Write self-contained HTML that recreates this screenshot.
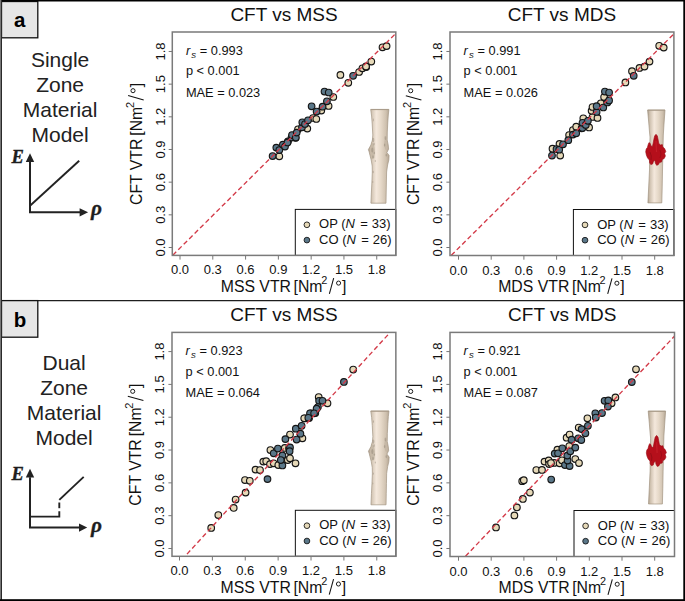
<!DOCTYPE html><html><head><meta charset="utf-8"><style>html,body{margin:0;padding:0;background:#fff;overflow:hidden;width:685px;height:601px;}svg{display:block}text{font-family:"Liberation Sans", sans-serif;}</style></head><body>
<svg width="685" height="601" viewBox="0 0 685 601">
<defs><linearGradient id="bone" x1="0" x2="1" y1="0" y2="0"><stop offset="0" stop-color="#a99b8a"/><stop offset="0.12" stop-color="#cdbfad"/><stop offset="0.38" stop-color="#f4e8dc"/><stop offset="0.6" stop-color="#e6d9c9"/><stop offset="0.85" stop-color="#cfc1af"/><stop offset="1" stop-color="#b3a593"/></linearGradient></defs>
<rect x="0" y="0" width="685" height="601" fill="#fff"/>
<text x="60.1" y="66.6" font-size="21" text-anchor="middle" fill="#222" >Single</text>
<text x="60.1" y="92.1" font-size="21" text-anchor="middle" fill="#222" >Zone</text>
<text x="60.1" y="117" font-size="21" text-anchor="middle" fill="#222" >Material</text>
<text x="60.1" y="142" font-size="21" text-anchor="middle" fill="#222" >Model</text>
<text x="64.1" y="369.6" font-size="21" text-anchor="middle" fill="#222" >Dual</text>
<text x="64.1" y="394.6" font-size="21" text-anchor="middle" fill="#222" >Zone</text>
<text x="64.1" y="419.5" font-size="21" text-anchor="middle" fill="#222" >Material</text>
<text x="64.1" y="444.5" font-size="21" text-anchor="middle" fill="#222" >Model</text>
<path d="M30 161.7 V212.3 H80.1" fill="none" stroke="#222" stroke-width="2"/>
<path d="M30 153.2 L34.2 162.0 L25.8 162.0 Z" fill="#222"/>
<path d="M88.1 212.3 L79.6 208.20000000000002 L79.6 216.4 Z" fill="#222"/>
<path d="M30 205.8 L79.2 160.7" stroke="#222" stroke-width="1.9" fill="none"/>
<text x="11.6" y="162.6" font-size="18.5" font-weight="bold" font-style="italic" fill="#1e1e1e" stroke="#1e1e1e" stroke-width="0.35" style="font-family:'Liberation Serif',serif">E</text>
<text x="90.9" y="215.3" font-size="21.3" font-weight="bold" font-style="italic" fill="#1e1e1e" stroke="#1e1e1e" stroke-width="0.3" style="font-family:'Liberation Serif',serif">ρ</text>
<path d="M30 477.2 V527.6 H79.5" fill="none" stroke="#222" stroke-width="2"/>
<path d="M30 468.8 L34.2 477.5 L25.8 477.5 Z" fill="#222"/>
<path d="M87.2 527.6 L79.0 523.5 L79.0 531.7 Z" fill="#222"/>
<path d="M30 516.6 H59.3 V511.2" stroke="#222" stroke-width="1.9" fill="none"/>
<path d="M59.3 508.2 V502.5" stroke="#222" stroke-width="1.9" fill="none"/>
<path d="M59.3 499.9 L83.7 476.9" stroke="#222" stroke-width="1.9" fill="none"/>
<text x="11.6" y="479.8" font-size="18.5" font-weight="bold" font-style="italic" fill="#1e1e1e" stroke="#1e1e1e" stroke-width="0.35" style="font-family:'Liberation Serif',serif">E</text>
<text x="91.1" y="532.4" font-size="21.3" font-weight="bold" font-style="italic" fill="#1e1e1e" stroke="#1e1e1e" stroke-width="0.3" style="font-family:'Liberation Serif',serif">ρ</text>
<text x="284.05" y="20.8" font-size="19" text-anchor="middle" fill="#111" >CFT vs MSS</text>
<line x1="180.00" y1="255.4" x2="180.00" y2="259.6" stroke="#777" stroke-width="1"/>
<line x1="168.70000000000002" y1="247.50" x2="172.3" y2="247.50" stroke="#777" stroke-width="1"/>
<text x="180.00" y="274.4" font-size="13" text-anchor="middle" fill="#111" >0.0</text>
<text transform="translate(164.60,247.50) rotate(-90)" font-size="13" text-anchor="middle" fill="#111">0.0</text>
<line x1="212.79" y1="255.4" x2="212.79" y2="259.6" stroke="#777" stroke-width="1"/>
<line x1="168.70000000000002" y1="214.83" x2="172.3" y2="214.83" stroke="#777" stroke-width="1"/>
<text x="212.79" y="274.4" font-size="13" text-anchor="middle" fill="#111" >0.3</text>
<text transform="translate(164.60,214.83) rotate(-90)" font-size="13" text-anchor="middle" fill="#111">0.3</text>
<line x1="245.58" y1="255.4" x2="245.58" y2="259.6" stroke="#777" stroke-width="1"/>
<line x1="168.70000000000002" y1="182.16" x2="172.3" y2="182.16" stroke="#777" stroke-width="1"/>
<text x="245.58" y="274.4" font-size="13" text-anchor="middle" fill="#111" >0.6</text>
<text transform="translate(164.60,182.16) rotate(-90)" font-size="13" text-anchor="middle" fill="#111">0.6</text>
<line x1="278.37" y1="255.4" x2="278.37" y2="259.6" stroke="#777" stroke-width="1"/>
<line x1="168.70000000000002" y1="149.49" x2="172.3" y2="149.49" stroke="#777" stroke-width="1"/>
<text x="278.37" y="274.4" font-size="13" text-anchor="middle" fill="#111" >0.9</text>
<text transform="translate(164.60,149.49) rotate(-90)" font-size="13" text-anchor="middle" fill="#111">0.9</text>
<line x1="311.16" y1="255.4" x2="311.16" y2="259.6" stroke="#777" stroke-width="1"/>
<line x1="168.70000000000002" y1="116.82" x2="172.3" y2="116.82" stroke="#777" stroke-width="1"/>
<text x="311.16" y="274.4" font-size="13" text-anchor="middle" fill="#111" >1.2</text>
<text transform="translate(164.60,116.82) rotate(-90)" font-size="13" text-anchor="middle" fill="#111">1.2</text>
<line x1="343.95" y1="255.4" x2="343.95" y2="259.6" stroke="#777" stroke-width="1"/>
<line x1="168.70000000000002" y1="84.15" x2="172.3" y2="84.15" stroke="#777" stroke-width="1"/>
<text x="343.95" y="274.4" font-size="13" text-anchor="middle" fill="#111" >1.5</text>
<text transform="translate(164.60,84.15) rotate(-90)" font-size="13" text-anchor="middle" fill="#111">1.5</text>
<line x1="376.74" y1="255.4" x2="376.74" y2="259.6" stroke="#777" stroke-width="1"/>
<line x1="168.70000000000002" y1="51.48" x2="172.3" y2="51.48" stroke="#777" stroke-width="1"/>
<text x="376.74" y="274.4" font-size="13" text-anchor="middle" fill="#111" >1.8</text>
<text transform="translate(164.60,51.48) rotate(-90)" font-size="13" text-anchor="middle" fill="#111">1.8</text>
<g transform="translate(284.05,291.80) translate(-62.01,0)" fill="#111"><text x="-1.30" y="0" font-size="15.8">MSS VTR</text><text x="71.53" y="0" font-size="15.8">[Nm</text><text x="99.23" y="-8" font-size="10.9">2</text><path d="M107.33 2 L111.63 -13.6" stroke="#111" stroke-width="1.05" fill="none"/><circle cx="116.53" cy="-8.7" r="2.05" stroke="#111" stroke-width="0.95" fill="none"/><text x="119.93" y="0" font-size="15.8">]</text></g>
<g transform="translate(141.70,143.70) rotate(-90) translate(-60.49,0)" fill="#111"><text x="-0.80" y="0" font-size="15.8">CFT VTR</text><text x="68.50" y="0" font-size="15.8">[Nm</text><text x="96.20" y="-8" font-size="10.9">2</text><path d="M104.30 2 L108.60 -13.6" stroke="#111" stroke-width="1.05" fill="none"/><circle cx="113.50" cy="-8.7" r="2.05" stroke="#111" stroke-width="0.95" fill="none"/><text x="116.90" y="0" font-size="15.8">]</text></g>
<text x="185.90" y="54.80" font-size="12.8" fill="#111"><tspan font-style="italic">r</tspan><tspan font-style="italic" font-size="9.6" dx="1.2" dy="3">s</tspan><tspan dx="0.1" dy="-3"> = 0.993</tspan></text>
<text x="185.90" y="75.20" font-size="12.8" text-anchor="start" fill="#111" >p &lt; 0.001</text>
<text x="185.90" y="96.50" font-size="12.8" text-anchor="start" fill="#111" >MAE = 0.023</text>
<path d="M370.70 109.40 L371.60 116.00 L372.20 124.00 L372.80 135.00 L372.40 140.00 L370.90 145.00 L368.40 149.60 L369.20 152.00 L369.90 155.00 L371.20 160.00 L372.20 166.00 L372.30 172.00 L371.90 182.00 L371.40 192.00 L370.90 203.20 L386.00 203.20 L386.20 192.00 L386.40 182.00 L386.60 172.00 L387.60 165.00 L388.80 160.00 L389.10 155.50 L386.90 152.50 L388.60 149.00 L388.20 145.00 L387.20 140.00 L387.30 132.00 L387.80 122.00 L388.30 115.00 L388.90 109.40 Z" fill="url(#bone)" stroke="#a39583" stroke-width="0.7" stroke-linejoin="round"/>
<path d="M371.30 142.00 C374.80 144.00 375.80 150.00 374.30 158.00 L371.30 159.00 Z" fill="#b7a996" opacity="0.55"/>
<path d="M386.80 136.00 C383.80 140.00 382.80 146.00 386.30 151.00 Z" fill="#b9ab99" opacity="0.5"/>
<path d="M370.80 109.60 L388.80 109.60" stroke="#a89a88" stroke-width="1"/>
<ellipse cx="373.30" cy="140.00" rx="1.0" ry="2.2" fill="#8f8373" opacity="0.45"/>
<ellipse cx="374.00" cy="144.00" rx="0.8" ry="1.6" fill="#8f8373" opacity="0.45"/>
<ellipse cx="372.30" cy="150.00" rx="1.1" ry="2.5" fill="#8f8373" opacity="0.45"/>
<ellipse cx="374.30" cy="153.00" rx="0.7" ry="1.2" fill="#8f8373" opacity="0.45"/>
<ellipse cx="373.00" cy="157.00" rx="0.8" ry="1.8" fill="#8f8373" opacity="0.45"/>
<ellipse cx="375.30" cy="161.00" rx="0.6" ry="1.0" fill="#8f8373" opacity="0.45"/>
<ellipse cx="385.30" cy="138.00" rx="0.8" ry="2.0" fill="#8f8373" opacity="0.45"/>
<ellipse cx="384.60" cy="145.00" rx="0.7" ry="1.5" fill="#8f8373" opacity="0.45"/>
<ellipse cx="386.30" cy="155.00" rx="0.8" ry="1.6" fill="#8f8373" opacity="0.45"/>
<ellipse cx="373.20" cy="172.00" rx="0.6" ry="1.2" fill="#8f8373" opacity="0.45"/>
<ellipse cx="372.80" cy="182.00" rx="0.5" ry="1.0" fill="#8f8373" opacity="0.45"/>
<ellipse cx="373.40" cy="120.00" rx="0.5" ry="1.4" fill="#8f8373" opacity="0.45"/>
<circle cx="279.3" cy="156.3" r="3.3" fill="#e6d9b8" stroke="#151515" stroke-width="1.15"/>
<circle cx="298.0" cy="129.3" r="3.3" fill="#e6d9b8" stroke="#151515" stroke-width="1.15"/>
<circle cx="295.6" cy="137.8" r="3.3" fill="#e6d9b8" stroke="#151515" stroke-width="1.15"/>
<circle cx="307.3" cy="128.6" r="3.3" fill="#e6d9b8" stroke="#151515" stroke-width="1.15"/>
<circle cx="313.0" cy="118.0" r="3.3" fill="#e6d9b8" stroke="#151515" stroke-width="1.15"/>
<circle cx="316.3" cy="119.0" r="3.3" fill="#e6d9b8" stroke="#151515" stroke-width="1.15"/>
<circle cx="328.6" cy="106.0" r="3.3" fill="#e6d9b8" stroke="#151515" stroke-width="1.15"/>
<circle cx="321.3" cy="110.6" r="3.3" fill="#e6d9b8" stroke="#151515" stroke-width="1.15"/>
<circle cx="333.3" cy="97.0" r="3.3" fill="#e6d9b8" stroke="#151515" stroke-width="1.15"/>
<circle cx="340.4" cy="74.9" r="3.3" fill="#e6d9b8" stroke="#151515" stroke-width="1.15"/>
<circle cx="348.3" cy="82.8" r="3.3" fill="#e6d9b8" stroke="#151515" stroke-width="1.15"/>
<circle cx="359.1" cy="72.0" r="3.3" fill="#e6d9b8" stroke="#151515" stroke-width="1.15"/>
<circle cx="362.4" cy="68.3" r="3.3" fill="#e6d9b8" stroke="#151515" stroke-width="1.15"/>
<circle cx="366.2" cy="67.0" r="3.3" fill="#e6d9b8" stroke="#151515" stroke-width="1.15"/>
<circle cx="371.3" cy="61.5" r="3.3" fill="#e6d9b8" stroke="#151515" stroke-width="1.15"/>
<circle cx="366.0" cy="66.4" r="3.3" fill="#e6d9b8" stroke="#151515" stroke-width="1.15"/>
<circle cx="382.5" cy="47.3" r="3.3" fill="#e6d9b8" stroke="#151515" stroke-width="1.15"/>
<circle cx="386.6" cy="46.1" r="3.3" fill="#e6d9b8" stroke="#151515" stroke-width="1.15"/>
<circle cx="272.6" cy="156.0" r="3.3" fill="#5a7789" stroke="#151515" stroke-width="1.15"/>
<circle cx="276.3" cy="147.6" r="3.3" fill="#5a7789" stroke="#151515" stroke-width="1.15"/>
<circle cx="279.3" cy="150.0" r="3.3" fill="#5a7789" stroke="#151515" stroke-width="1.15"/>
<circle cx="282.9" cy="144.6" r="3.3" fill="#5a7789" stroke="#151515" stroke-width="1.15"/>
<circle cx="285.0" cy="146.6" r="3.3" fill="#5a7789" stroke="#151515" stroke-width="1.15"/>
<circle cx="288.0" cy="141.3" r="3.3" fill="#5a7789" stroke="#151515" stroke-width="1.15"/>
<circle cx="287.5" cy="142.4" r="3.3" fill="#5a7789" stroke="#151515" stroke-width="1.15"/>
<circle cx="291.5" cy="137.5" r="3.3" fill="#5a7789" stroke="#151515" stroke-width="1.15"/>
<circle cx="292.0" cy="135.0" r="3.3" fill="#5a7789" stroke="#151515" stroke-width="1.15"/>
<circle cx="295.8" cy="137.5" r="3.3" fill="#5a7789" stroke="#151515" stroke-width="1.15"/>
<circle cx="296.7" cy="132.6" r="3.3" fill="#5a7789" stroke="#151515" stroke-width="1.15"/>
<circle cx="302.0" cy="127.3" r="3.3" fill="#5a7789" stroke="#151515" stroke-width="1.15"/>
<circle cx="302.3" cy="122.3" r="3.3" fill="#5a7789" stroke="#151515" stroke-width="1.15"/>
<circle cx="305.0" cy="124.0" r="3.3" fill="#5a7789" stroke="#151515" stroke-width="1.15"/>
<circle cx="308.0" cy="120.3" r="3.3" fill="#5a7789" stroke="#151515" stroke-width="1.15"/>
<circle cx="311.6" cy="106.3" r="3.3" fill="#5a7789" stroke="#151515" stroke-width="1.15"/>
<circle cx="316.6" cy="111.6" r="3.3" fill="#5a7789" stroke="#151515" stroke-width="1.15"/>
<circle cx="322.6" cy="106.7" r="3.3" fill="#5a7789" stroke="#151515" stroke-width="1.15"/>
<circle cx="326.9" cy="101.3" r="3.3" fill="#5a7789" stroke="#151515" stroke-width="1.15"/>
<circle cx="324.5" cy="91.6" r="3.3" fill="#5a7789" stroke="#151515" stroke-width="1.15"/>
<circle cx="328.7" cy="92.5" r="3.3" fill="#5a7789" stroke="#151515" stroke-width="1.15"/>
<circle cx="353.1" cy="75.8" r="3.3" fill="#5a7789" stroke="#151515" stroke-width="1.15"/>
<line x1="172.8" y1="255.2" x2="395.6" y2="33.6" stroke="#d33a48" stroke-width="1.35" stroke-dasharray="4.8 2.9"/>
<rect x="295.30" y="209.40" width="100.50" height="46.00" fill="#fff" stroke="#111" stroke-width="1"/>
<circle cx="306.90" cy="224.80" r="2.85" fill="#e6d9b8" stroke="#1a1a1a" stroke-width="0.9"/>
<circle cx="306.90" cy="240.10" r="2.85" fill="#5a7789" stroke="#1a1a1a" stroke-width="0.9"/>
<text x="319.10" y="228.40" font-size="13" fill="#111">OP (<tspan font-style="italic">N</tspan><tspan dx="1.6"> =</tspan><tspan dx="0.4"> 33)</tspan></text>
<text x="319.10" y="243.70" font-size="13" fill="#111">CO (<tspan font-style="italic">N</tspan><tspan dx="1.6"> =</tspan><tspan dx="0.4"> 26)</tspan></text>
<rect x="172.3" y="32" width="223.50" height="223.40" fill="none" stroke="#7a7a7a" stroke-width="1.5"/>
<text x="561.95" y="20.8" font-size="19" text-anchor="middle" fill="#111" >CFT vs MDS</text>
<line x1="458.50" y1="255.5" x2="458.50" y2="259.7" stroke="#777" stroke-width="1"/>
<line x1="446.4" y1="247.50" x2="450.0" y2="247.50" stroke="#777" stroke-width="1"/>
<text x="458.50" y="274.5" font-size="13" text-anchor="middle" fill="#111" >0.0</text>
<text transform="translate(442.30,247.50) rotate(-90)" font-size="13" text-anchor="middle" fill="#111">0.0</text>
<line x1="491.20" y1="255.5" x2="491.20" y2="259.7" stroke="#777" stroke-width="1"/>
<line x1="446.4" y1="214.83" x2="450.0" y2="214.83" stroke="#777" stroke-width="1"/>
<text x="491.20" y="274.5" font-size="13" text-anchor="middle" fill="#111" >0.3</text>
<text transform="translate(442.30,214.83) rotate(-90)" font-size="13" text-anchor="middle" fill="#111">0.3</text>
<line x1="523.90" y1="255.5" x2="523.90" y2="259.7" stroke="#777" stroke-width="1"/>
<line x1="446.4" y1="182.16" x2="450.0" y2="182.16" stroke="#777" stroke-width="1"/>
<text x="523.90" y="274.5" font-size="13" text-anchor="middle" fill="#111" >0.6</text>
<text transform="translate(442.30,182.16) rotate(-90)" font-size="13" text-anchor="middle" fill="#111">0.6</text>
<line x1="556.60" y1="255.5" x2="556.60" y2="259.7" stroke="#777" stroke-width="1"/>
<line x1="446.4" y1="149.49" x2="450.0" y2="149.49" stroke="#777" stroke-width="1"/>
<text x="556.60" y="274.5" font-size="13" text-anchor="middle" fill="#111" >0.9</text>
<text transform="translate(442.30,149.49) rotate(-90)" font-size="13" text-anchor="middle" fill="#111">0.9</text>
<line x1="589.30" y1="255.5" x2="589.30" y2="259.7" stroke="#777" stroke-width="1"/>
<line x1="446.4" y1="116.82" x2="450.0" y2="116.82" stroke="#777" stroke-width="1"/>
<text x="589.30" y="274.5" font-size="13" text-anchor="middle" fill="#111" >1.2</text>
<text transform="translate(442.30,116.82) rotate(-90)" font-size="13" text-anchor="middle" fill="#111">1.2</text>
<line x1="622.00" y1="255.5" x2="622.00" y2="259.7" stroke="#777" stroke-width="1"/>
<line x1="446.4" y1="84.15" x2="450.0" y2="84.15" stroke="#777" stroke-width="1"/>
<text x="622.00" y="274.5" font-size="13" text-anchor="middle" fill="#111" >1.5</text>
<text transform="translate(442.30,84.15) rotate(-90)" font-size="13" text-anchor="middle" fill="#111">1.5</text>
<line x1="654.70" y1="255.5" x2="654.70" y2="259.7" stroke="#777" stroke-width="1"/>
<line x1="446.4" y1="51.48" x2="450.0" y2="51.48" stroke="#777" stroke-width="1"/>
<text x="654.70" y="274.5" font-size="13" text-anchor="middle" fill="#111" >1.8</text>
<text transform="translate(442.30,51.48) rotate(-90)" font-size="13" text-anchor="middle" fill="#111">1.8</text>
<g transform="translate(561.95,291.90) translate(-62.45,0)" fill="#111"><text x="-1.30" y="0" font-size="15.8">MDS VTR</text><text x="72.40" y="0" font-size="15.8">[Nm</text><text x="100.10" y="-8" font-size="10.9">2</text><path d="M108.20 2 L112.50 -13.6" stroke="#111" stroke-width="1.05" fill="none"/><circle cx="117.40" cy="-8.7" r="2.05" stroke="#111" stroke-width="0.95" fill="none"/><text x="120.80" y="0" font-size="15.8">]</text></g>
<g transform="translate(419.40,143.75) rotate(-90) translate(-60.49,0)" fill="#111"><text x="-0.80" y="0" font-size="15.8">CFT VTR</text><text x="68.50" y="0" font-size="15.8">[Nm</text><text x="96.20" y="-8" font-size="10.9">2</text><path d="M104.30 2 L108.60 -13.6" stroke="#111" stroke-width="1.05" fill="none"/><circle cx="113.50" cy="-8.7" r="2.05" stroke="#111" stroke-width="0.95" fill="none"/><text x="116.90" y="0" font-size="15.8">]</text></g>
<text x="463.60" y="54.80" font-size="12.8" fill="#111"><tspan font-style="italic">r</tspan><tspan font-style="italic" font-size="9.6" dx="1.2" dy="3">s</tspan><tspan dx="0.1" dy="-3"> = 0.991</tspan></text>
<text x="463.60" y="75.20" font-size="12.8" text-anchor="start" fill="#111" >p &lt; 0.001</text>
<text x="463.60" y="96.50" font-size="12.8" text-anchor="start" fill="#111" >MAE = 0.026</text>
<path d="M647.60 110.00 L648.70 122.00 L649.50 132.00 L650.00 137.00 L649.70 152.00 L649.50 170.00 L648.70 187.00 L647.90 202.90 L661.80 202.90 L662.20 187.00 L662.50 170.00 L662.90 152.00 L663.30 135.00 L664.00 124.00 L665.00 110.00 Z" fill="url(#bone)" stroke="#a39583" stroke-width="0.7" stroke-linejoin="round"/>
<path d="M647.70 110.20 L664.90 110.20" stroke="#a89a88" stroke-width="1"/>
<path d="M656.00 134.30 L657.40 136.00 L658.20 140.00 L658.80 143.50 L660.50 145.00 L662.30 144.60 L662.80 147.00 L664.60 148.50 L665.80 151.50 L664.60 153.50 L665.40 156.00 L664.20 158.50 L662.20 159.50 L661.60 162.00 L659.60 162.40 L658.20 164.80 L656.60 165.30 L655.30 163.00 L655.00 160.50 L653.60 161.00 L652.60 164.00 L650.80 164.60 L649.60 162.80 L649.40 160.00 L647.60 158.00 L646.40 155.20 L645.70 151.80 L646.20 149.00 L647.40 147.50 L648.20 144.50 L649.00 142.60 L650.20 143.40 L651.00 146.00 L652.40 146.50 L653.20 143.00 L653.80 139.50 L654.60 136.00 Z" fill="#b50f1b" stroke="#9a0a14" stroke-width="0.6" stroke-linejoin="round"/>
<path d="M650.00 152.00 Q652.00 156.00 651.00 160.00" stroke="#8c0a12" stroke-width="1" fill="none" opacity="0.7"/>
<path d="M660.00 150.00 Q662.00 154.00 660.00 158.00" stroke="#8c0a12" stroke-width="0.9" fill="none" opacity="0.6"/>
<path d="M656.00 141.00 L656.50 152.00" stroke="#cf2a34" stroke-width="1.2" fill="none" opacity="0.5"/>
<circle cx="560.2" cy="155.5" r="3.3" fill="#e6d9b8" stroke="#151515" stroke-width="1.15"/>
<circle cx="552.5" cy="148.7" r="3.3" fill="#e6d9b8" stroke="#151515" stroke-width="1.15"/>
<circle cx="559.5" cy="143.9" r="3.3" fill="#e6d9b8" stroke="#151515" stroke-width="1.15"/>
<circle cx="569.1" cy="135.0" r="3.3" fill="#e6d9b8" stroke="#151515" stroke-width="1.15"/>
<circle cx="572.9" cy="130.0" r="3.3" fill="#e6d9b8" stroke="#151515" stroke-width="1.15"/>
<circle cx="576.2" cy="126.7" r="3.3" fill="#e6d9b8" stroke="#151515" stroke-width="1.15"/>
<circle cx="589.1" cy="127.4" r="3.3" fill="#e6d9b8" stroke="#151515" stroke-width="1.15"/>
<circle cx="583.3" cy="118.3" r="3.3" fill="#e6d9b8" stroke="#151515" stroke-width="1.15"/>
<circle cx="592.5" cy="117.0" r="3.3" fill="#e6d9b8" stroke="#151515" stroke-width="1.15"/>
<circle cx="597.5" cy="117.9" r="3.3" fill="#e6d9b8" stroke="#151515" stroke-width="1.15"/>
<circle cx="591.6" cy="110.8" r="3.3" fill="#e6d9b8" stroke="#151515" stroke-width="1.15"/>
<circle cx="592.5" cy="107.0" r="3.3" fill="#e6d9b8" stroke="#151515" stroke-width="1.15"/>
<circle cx="600.8" cy="103.3" r="3.3" fill="#e6d9b8" stroke="#151515" stroke-width="1.15"/>
<circle cx="604.1" cy="97.1" r="3.3" fill="#e6d9b8" stroke="#151515" stroke-width="1.15"/>
<circle cx="625.4" cy="82.4" r="3.3" fill="#e6d9b8" stroke="#151515" stroke-width="1.15"/>
<circle cx="632.0" cy="71.2" r="3.3" fill="#e6d9b8" stroke="#151515" stroke-width="1.15"/>
<circle cx="639.5" cy="67.9" r="3.3" fill="#e6d9b8" stroke="#151515" stroke-width="1.15"/>
<circle cx="644.5" cy="66.6" r="3.3" fill="#e6d9b8" stroke="#151515" stroke-width="1.15"/>
<circle cx="649.5" cy="61.6" r="3.3" fill="#e6d9b8" stroke="#151515" stroke-width="1.15"/>
<circle cx="659.2" cy="45.8" r="3.3" fill="#e6d9b8" stroke="#151515" stroke-width="1.15"/>
<circle cx="663.7" cy="47.6" r="3.3" fill="#e6d9b8" stroke="#151515" stroke-width="1.15"/>
<circle cx="552.0" cy="155.5" r="3.3" fill="#5a7789" stroke="#151515" stroke-width="1.15"/>
<circle cx="556.5" cy="149.0" r="3.3" fill="#5a7789" stroke="#151515" stroke-width="1.15"/>
<circle cx="559.2" cy="149.7" r="3.3" fill="#5a7789" stroke="#151515" stroke-width="1.15"/>
<circle cx="563.0" cy="144.3" r="3.3" fill="#5a7789" stroke="#151515" stroke-width="1.15"/>
<circle cx="568.3" cy="140.2" r="3.3" fill="#5a7789" stroke="#151515" stroke-width="1.15"/>
<circle cx="572.9" cy="134.6" r="3.3" fill="#5a7789" stroke="#151515" stroke-width="1.15"/>
<circle cx="576.2" cy="133.3" r="3.3" fill="#5a7789" stroke="#151515" stroke-width="1.15"/>
<circle cx="581.6" cy="128.3" r="3.3" fill="#5a7789" stroke="#151515" stroke-width="1.15"/>
<circle cx="582.4" cy="127.9" r="3.3" fill="#5a7789" stroke="#151515" stroke-width="1.15"/>
<circle cx="582.5" cy="122.8" r="3.3" fill="#5a7789" stroke="#151515" stroke-width="1.15"/>
<circle cx="585.8" cy="124.9" r="3.3" fill="#5a7789" stroke="#151515" stroke-width="1.15"/>
<circle cx="587.9" cy="120.8" r="3.3" fill="#5a7789" stroke="#151515" stroke-width="1.15"/>
<circle cx="596.6" cy="112.0" r="3.3" fill="#5a7789" stroke="#151515" stroke-width="1.15"/>
<circle cx="596.6" cy="106.2" r="3.3" fill="#5a7789" stroke="#151515" stroke-width="1.15"/>
<circle cx="603.3" cy="107.5" r="3.3" fill="#5a7789" stroke="#151515" stroke-width="1.15"/>
<circle cx="607.4" cy="102.5" r="3.3" fill="#5a7789" stroke="#151515" stroke-width="1.15"/>
<circle cx="609.1" cy="100.4" r="3.3" fill="#5a7789" stroke="#151515" stroke-width="1.15"/>
<circle cx="604.9" cy="91.6" r="3.3" fill="#5a7789" stroke="#151515" stroke-width="1.15"/>
<circle cx="609.1" cy="92.5" r="3.3" fill="#5a7789" stroke="#151515" stroke-width="1.15"/>
<circle cx="633.7" cy="75.8" r="3.3" fill="#5a7789" stroke="#151515" stroke-width="1.15"/>
<line x1="451.3" y1="255.3" x2="673.6" y2="34.2" stroke="#d33a48" stroke-width="1.35" stroke-dasharray="4.8 2.9"/>
<rect x="573.40" y="209.50" width="100.50" height="46.00" fill="#fff" stroke="#111" stroke-width="1"/>
<circle cx="585.00" cy="224.90" r="2.85" fill="#e6d9b8" stroke="#1a1a1a" stroke-width="0.9"/>
<circle cx="585.00" cy="240.20" r="2.85" fill="#5a7789" stroke="#1a1a1a" stroke-width="0.9"/>
<text x="597.20" y="228.50" font-size="13" fill="#111">OP (<tspan font-style="italic">N</tspan><tspan dx="1.6"> =</tspan><tspan dx="0.4"> 33)</tspan></text>
<text x="597.20" y="243.80" font-size="13" fill="#111">CO (<tspan font-style="italic">N</tspan><tspan dx="1.6"> =</tspan><tspan dx="0.4"> 26)</tspan></text>
<rect x="450.0" y="32" width="223.90" height="223.50" fill="none" stroke="#7a7a7a" stroke-width="1.5"/>
<text x="283.93" y="321.2" font-size="19" text-anchor="middle" fill="#111" >CFT vs MSS</text>
<line x1="179.50" y1="556.3" x2="179.50" y2="560.5" stroke="#777" stroke-width="1"/>
<line x1="168.4" y1="548.50" x2="172.0" y2="548.50" stroke="#777" stroke-width="1"/>
<text x="179.50" y="575.3" font-size="13" text-anchor="middle" fill="#111" >0.0</text>
<text transform="translate(164.30,548.50) rotate(-90)" font-size="13" text-anchor="middle" fill="#111">0.0</text>
<line x1="212.38" y1="556.3" x2="212.38" y2="560.5" stroke="#777" stroke-width="1"/>
<line x1="168.4" y1="515.68" x2="172.0" y2="515.68" stroke="#777" stroke-width="1"/>
<text x="212.38" y="575.3" font-size="13" text-anchor="middle" fill="#111" >0.3</text>
<text transform="translate(164.30,515.68) rotate(-90)" font-size="13" text-anchor="middle" fill="#111">0.3</text>
<line x1="245.26" y1="556.3" x2="245.26" y2="560.5" stroke="#777" stroke-width="1"/>
<line x1="168.4" y1="482.86" x2="172.0" y2="482.86" stroke="#777" stroke-width="1"/>
<text x="245.26" y="575.3" font-size="13" text-anchor="middle" fill="#111" >0.6</text>
<text transform="translate(164.30,482.86) rotate(-90)" font-size="13" text-anchor="middle" fill="#111">0.6</text>
<line x1="278.14" y1="556.3" x2="278.14" y2="560.5" stroke="#777" stroke-width="1"/>
<line x1="168.4" y1="450.04" x2="172.0" y2="450.04" stroke="#777" stroke-width="1"/>
<text x="278.14" y="575.3" font-size="13" text-anchor="middle" fill="#111" >0.9</text>
<text transform="translate(164.30,450.04) rotate(-90)" font-size="13" text-anchor="middle" fill="#111">0.9</text>
<line x1="311.02" y1="556.3" x2="311.02" y2="560.5" stroke="#777" stroke-width="1"/>
<line x1="168.4" y1="417.22" x2="172.0" y2="417.22" stroke="#777" stroke-width="1"/>
<text x="311.02" y="575.3" font-size="13" text-anchor="middle" fill="#111" >1.2</text>
<text transform="translate(164.30,417.22) rotate(-90)" font-size="13" text-anchor="middle" fill="#111">1.2</text>
<line x1="343.90" y1="556.3" x2="343.90" y2="560.5" stroke="#777" stroke-width="1"/>
<line x1="168.4" y1="384.40" x2="172.0" y2="384.40" stroke="#777" stroke-width="1"/>
<text x="343.90" y="575.3" font-size="13" text-anchor="middle" fill="#111" >1.5</text>
<text transform="translate(164.30,384.40) rotate(-90)" font-size="13" text-anchor="middle" fill="#111">1.5</text>
<line x1="376.78" y1="556.3" x2="376.78" y2="560.5" stroke="#777" stroke-width="1"/>
<line x1="168.4" y1="351.58" x2="172.0" y2="351.58" stroke="#777" stroke-width="1"/>
<text x="376.78" y="575.3" font-size="13" text-anchor="middle" fill="#111" >1.8</text>
<text transform="translate(164.30,351.58) rotate(-90)" font-size="13" text-anchor="middle" fill="#111">1.8</text>
<g transform="translate(283.93,592.70) translate(-62.01,0)" fill="#111"><text x="-1.30" y="0" font-size="15.8">MSS VTR</text><text x="71.53" y="0" font-size="15.8">[Nm</text><text x="99.23" y="-8" font-size="10.9">2</text><path d="M107.33 2 L111.63 -13.6" stroke="#111" stroke-width="1.05" fill="none"/><circle cx="116.53" cy="-8.7" r="2.05" stroke="#111" stroke-width="0.95" fill="none"/><text x="119.93" y="0" font-size="15.8">]</text></g>
<g transform="translate(141.40,444.35) rotate(-90) translate(-60.49,0)" fill="#111"><text x="-0.80" y="0" font-size="15.8">CFT VTR</text><text x="68.50" y="0" font-size="15.8">[Nm</text><text x="96.20" y="-8" font-size="10.9">2</text><path d="M104.30 2 L108.60 -13.6" stroke="#111" stroke-width="1.05" fill="none"/><circle cx="113.50" cy="-8.7" r="2.05" stroke="#111" stroke-width="0.95" fill="none"/><text x="116.90" y="0" font-size="15.8">]</text></g>
<text x="185.60" y="355.20" font-size="12.8" fill="#111"><tspan font-style="italic">r</tspan><tspan font-style="italic" font-size="9.6" dx="1.2" dy="3">s</tspan><tspan dx="0.1" dy="-3"> = 0.923</tspan></text>
<text x="185.60" y="375.60" font-size="12.8" text-anchor="start" fill="#111" >p &lt; 0.001</text>
<text x="185.60" y="396.90" font-size="12.8" text-anchor="start" fill="#111" >MAE = 0.064</text>
<path d="M370.75 411.00 L371.65 417.60 L372.25 425.60 L372.85 436.60 L372.45 441.60 L370.95 446.60 L368.45 451.20 L369.25 453.60 L369.95 456.60 L371.25 461.60 L372.25 467.60 L372.35 473.60 L371.95 483.60 L371.45 493.60 L370.95 504.80 L386.05 504.80 L386.25 493.60 L386.45 483.60 L386.65 473.60 L387.65 466.60 L388.85 461.60 L389.15 457.10 L386.95 454.10 L388.65 450.60 L388.25 446.60 L387.25 441.60 L387.35 433.60 L387.85 423.60 L388.35 416.60 L388.95 411.00 Z" fill="url(#bone)" stroke="#a39583" stroke-width="0.7" stroke-linejoin="round"/>
<path d="M371.35 443.60 C374.85 445.60 375.85 451.60 374.35 459.60 L371.35 460.60 Z" fill="#b7a996" opacity="0.55"/>
<path d="M386.85 437.60 C383.85 441.60 382.85 447.60 386.35 452.60 Z" fill="#b9ab99" opacity="0.5"/>
<path d="M370.85 411.20 L388.85 411.20" stroke="#a89a88" stroke-width="1"/>
<ellipse cx="373.35" cy="441.60" rx="1.0" ry="2.2" fill="#8f8373" opacity="0.45"/>
<ellipse cx="374.05" cy="445.60" rx="0.8" ry="1.6" fill="#8f8373" opacity="0.45"/>
<ellipse cx="372.35" cy="451.60" rx="1.1" ry="2.5" fill="#8f8373" opacity="0.45"/>
<ellipse cx="374.35" cy="454.60" rx="0.7" ry="1.2" fill="#8f8373" opacity="0.45"/>
<ellipse cx="373.05" cy="458.60" rx="0.8" ry="1.8" fill="#8f8373" opacity="0.45"/>
<ellipse cx="375.35" cy="462.60" rx="0.6" ry="1.0" fill="#8f8373" opacity="0.45"/>
<ellipse cx="385.35" cy="439.60" rx="0.8" ry="2.0" fill="#8f8373" opacity="0.45"/>
<ellipse cx="384.65" cy="446.60" rx="0.7" ry="1.5" fill="#8f8373" opacity="0.45"/>
<ellipse cx="386.35" cy="456.60" rx="0.8" ry="1.6" fill="#8f8373" opacity="0.45"/>
<ellipse cx="373.25" cy="473.60" rx="0.6" ry="1.2" fill="#8f8373" opacity="0.45"/>
<ellipse cx="372.85" cy="483.60" rx="0.5" ry="1.0" fill="#8f8373" opacity="0.45"/>
<ellipse cx="373.45" cy="421.60" rx="0.5" ry="1.4" fill="#8f8373" opacity="0.45"/>
<circle cx="211.2" cy="527.9" r="3.3" fill="#e6d9b8" stroke="#151515" stroke-width="1.15"/>
<circle cx="218.3" cy="515.0" r="3.3" fill="#e6d9b8" stroke="#151515" stroke-width="1.15"/>
<circle cx="233.7" cy="507.9" r="3.3" fill="#e6d9b8" stroke="#151515" stroke-width="1.15"/>
<circle cx="235.6" cy="499.5" r="3.3" fill="#e6d9b8" stroke="#151515" stroke-width="1.15"/>
<circle cx="245.6" cy="492.6" r="3.3" fill="#e6d9b8" stroke="#151515" stroke-width="1.15"/>
<circle cx="245.0" cy="480.0" r="3.3" fill="#e6d9b8" stroke="#151515" stroke-width="1.15"/>
<circle cx="249.8" cy="480.8" r="3.3" fill="#e6d9b8" stroke="#151515" stroke-width="1.15"/>
<circle cx="255.5" cy="469.6" r="3.3" fill="#e6d9b8" stroke="#151515" stroke-width="1.15"/>
<circle cx="260.0" cy="470.0" r="3.3" fill="#e6d9b8" stroke="#151515" stroke-width="1.15"/>
<circle cx="263.3" cy="461.6" r="3.3" fill="#e6d9b8" stroke="#151515" stroke-width="1.15"/>
<circle cx="266.2" cy="461.2" r="3.3" fill="#e6d9b8" stroke="#151515" stroke-width="1.15"/>
<circle cx="270.0" cy="464.1" r="3.3" fill="#e6d9b8" stroke="#151515" stroke-width="1.15"/>
<circle cx="273.7" cy="463.3" r="3.3" fill="#e6d9b8" stroke="#151515" stroke-width="1.15"/>
<circle cx="278.3" cy="465.0" r="3.3" fill="#e6d9b8" stroke="#151515" stroke-width="1.15"/>
<circle cx="270.4" cy="450.0" r="3.3" fill="#e6d9b8" stroke="#151515" stroke-width="1.15"/>
<circle cx="284.8" cy="447.9" r="3.3" fill="#e6d9b8" stroke="#151515" stroke-width="1.15"/>
<circle cx="287.8" cy="460.0" r="3.3" fill="#e6d9b8" stroke="#151515" stroke-width="1.15"/>
<circle cx="290.0" cy="458.3" r="3.3" fill="#e6d9b8" stroke="#151515" stroke-width="1.15"/>
<circle cx="295.5" cy="463.3" r="3.3" fill="#e6d9b8" stroke="#151515" stroke-width="1.15"/>
<circle cx="290.0" cy="434.5" r="3.3" fill="#e6d9b8" stroke="#151515" stroke-width="1.15"/>
<circle cx="302.4" cy="438.3" r="3.3" fill="#e6d9b8" stroke="#151515" stroke-width="1.15"/>
<circle cx="304.9" cy="418.3" r="3.3" fill="#e6d9b8" stroke="#151515" stroke-width="1.15"/>
<circle cx="318.7" cy="397.0" r="3.3" fill="#e6d9b8" stroke="#151515" stroke-width="1.15"/>
<circle cx="327.5" cy="403.3" r="3.3" fill="#e6d9b8" stroke="#151515" stroke-width="1.15"/>
<circle cx="304.2" cy="418.3" r="3.3" fill="#e6d9b8" stroke="#151515" stroke-width="1.15"/>
<circle cx="353.2" cy="369.5" r="3.3" fill="#e6d9b8" stroke="#151515" stroke-width="1.15"/>
<circle cx="267.5" cy="479.1" r="3.3" fill="#5a7789" stroke="#151515" stroke-width="1.15"/>
<circle cx="282.4" cy="465.4" r="3.3" fill="#5a7789" stroke="#151515" stroke-width="1.15"/>
<circle cx="273.7" cy="453.3" r="3.3" fill="#5a7789" stroke="#151515" stroke-width="1.15"/>
<circle cx="277.9" cy="448.5" r="3.3" fill="#5a7789" stroke="#151515" stroke-width="1.15"/>
<circle cx="282.4" cy="455.4" r="3.3" fill="#5a7789" stroke="#151515" stroke-width="1.15"/>
<circle cx="280.8" cy="460.0" r="3.3" fill="#5a7789" stroke="#151515" stroke-width="1.15"/>
<circle cx="289.0" cy="448.3" r="3.3" fill="#5a7789" stroke="#151515" stroke-width="1.15"/>
<circle cx="290.0" cy="447.4" r="3.3" fill="#5a7789" stroke="#151515" stroke-width="1.15"/>
<circle cx="289.6" cy="451.2" r="3.3" fill="#5a7789" stroke="#151515" stroke-width="1.15"/>
<circle cx="285.4" cy="439.1" r="3.3" fill="#5a7789" stroke="#151515" stroke-width="1.15"/>
<circle cx="296.6" cy="439.5" r="3.3" fill="#5a7789" stroke="#151515" stroke-width="1.15"/>
<circle cx="300.4" cy="433.7" r="3.3" fill="#5a7789" stroke="#151515" stroke-width="1.15"/>
<circle cx="295.8" cy="428.7" r="3.3" fill="#5a7789" stroke="#151515" stroke-width="1.15"/>
<circle cx="301.6" cy="425.8" r="3.3" fill="#5a7789" stroke="#151515" stroke-width="1.15"/>
<circle cx="309.1" cy="417.9" r="3.3" fill="#5a7789" stroke="#151515" stroke-width="1.15"/>
<circle cx="310.8" cy="413.3" r="3.3" fill="#5a7789" stroke="#151515" stroke-width="1.15"/>
<circle cx="315.3" cy="412.9" r="3.3" fill="#5a7789" stroke="#151515" stroke-width="1.15"/>
<circle cx="319.1" cy="400.8" r="3.3" fill="#5a7789" stroke="#151515" stroke-width="1.15"/>
<circle cx="322.5" cy="400.8" r="3.3" fill="#5a7789" stroke="#151515" stroke-width="1.15"/>
<circle cx="317.9" cy="407.0" r="3.3" fill="#5a7789" stroke="#151515" stroke-width="1.15"/>
<circle cx="316.6" cy="408.7" r="3.3" fill="#5a7789" stroke="#151515" stroke-width="1.15"/>
<circle cx="310.0" cy="413.3" r="3.3" fill="#5a7789" stroke="#151515" stroke-width="1.15"/>
<circle cx="314.1" cy="413.3" r="3.3" fill="#5a7789" stroke="#151515" stroke-width="1.15"/>
<circle cx="308.3" cy="417.8" r="3.3" fill="#5a7789" stroke="#151515" stroke-width="1.15"/>
<circle cx="343.9" cy="381.9" r="3.3" fill="#5a7789" stroke="#151515" stroke-width="1.15"/>
<line x1="187" y1="554.1" x2="388.6" y2="334.1" stroke="#d33a48" stroke-width="1.35" stroke-dasharray="4.8 2.9"/>
<rect x="295.35" y="510.30" width="100.50" height="46.00" fill="#fff" stroke="#111" stroke-width="1"/>
<circle cx="306.95" cy="525.70" r="2.85" fill="#e6d9b8" stroke="#1a1a1a" stroke-width="0.9"/>
<circle cx="306.95" cy="541.00" r="2.85" fill="#5a7789" stroke="#1a1a1a" stroke-width="0.9"/>
<text x="319.15" y="529.30" font-size="13" fill="#111">OP (<tspan font-style="italic">N</tspan><tspan dx="1.6"> =</tspan><tspan dx="0.4"> 33)</tspan></text>
<text x="319.15" y="544.60" font-size="13" fill="#111">CO (<tspan font-style="italic">N</tspan><tspan dx="1.6"> =</tspan><tspan dx="0.4"> 26)</tspan></text>
<rect x="172.0" y="332.4" width="223.85" height="223.90" fill="none" stroke="#7a7a7a" stroke-width="1.5"/>
<text x="562.25" y="321.2" font-size="19" text-anchor="middle" fill="#111" >CFT vs MDS</text>
<line x1="458.50" y1="556.5" x2="458.50" y2="560.7" stroke="#777" stroke-width="1"/>
<line x1="446.4" y1="548.50" x2="450.0" y2="548.50" stroke="#777" stroke-width="1"/>
<text x="458.50" y="575.5" font-size="13" text-anchor="middle" fill="#111" >0.0</text>
<text transform="translate(442.30,548.50) rotate(-90)" font-size="13" text-anchor="middle" fill="#111">0.0</text>
<line x1="491.20" y1="556.5" x2="491.20" y2="560.7" stroke="#777" stroke-width="1"/>
<line x1="446.4" y1="515.68" x2="450.0" y2="515.68" stroke="#777" stroke-width="1"/>
<text x="491.20" y="575.5" font-size="13" text-anchor="middle" fill="#111" >0.3</text>
<text transform="translate(442.30,515.68) rotate(-90)" font-size="13" text-anchor="middle" fill="#111">0.3</text>
<line x1="523.90" y1="556.5" x2="523.90" y2="560.7" stroke="#777" stroke-width="1"/>
<line x1="446.4" y1="482.86" x2="450.0" y2="482.86" stroke="#777" stroke-width="1"/>
<text x="523.90" y="575.5" font-size="13" text-anchor="middle" fill="#111" >0.6</text>
<text transform="translate(442.30,482.86) rotate(-90)" font-size="13" text-anchor="middle" fill="#111">0.6</text>
<line x1="556.60" y1="556.5" x2="556.60" y2="560.7" stroke="#777" stroke-width="1"/>
<line x1="446.4" y1="450.04" x2="450.0" y2="450.04" stroke="#777" stroke-width="1"/>
<text x="556.60" y="575.5" font-size="13" text-anchor="middle" fill="#111" >0.9</text>
<text transform="translate(442.30,450.04) rotate(-90)" font-size="13" text-anchor="middle" fill="#111">0.9</text>
<line x1="589.30" y1="556.5" x2="589.30" y2="560.7" stroke="#777" stroke-width="1"/>
<line x1="446.4" y1="417.22" x2="450.0" y2="417.22" stroke="#777" stroke-width="1"/>
<text x="589.30" y="575.5" font-size="13" text-anchor="middle" fill="#111" >1.2</text>
<text transform="translate(442.30,417.22) rotate(-90)" font-size="13" text-anchor="middle" fill="#111">1.2</text>
<line x1="622.00" y1="556.5" x2="622.00" y2="560.7" stroke="#777" stroke-width="1"/>
<line x1="446.4" y1="384.40" x2="450.0" y2="384.40" stroke="#777" stroke-width="1"/>
<text x="622.00" y="575.5" font-size="13" text-anchor="middle" fill="#111" >1.5</text>
<text transform="translate(442.30,384.40) rotate(-90)" font-size="13" text-anchor="middle" fill="#111">1.5</text>
<line x1="654.70" y1="556.5" x2="654.70" y2="560.7" stroke="#777" stroke-width="1"/>
<line x1="446.4" y1="351.58" x2="450.0" y2="351.58" stroke="#777" stroke-width="1"/>
<text x="654.70" y="575.5" font-size="13" text-anchor="middle" fill="#111" >1.8</text>
<text transform="translate(442.30,351.58) rotate(-90)" font-size="13" text-anchor="middle" fill="#111">1.8</text>
<g transform="translate(562.25,592.90) translate(-62.45,0)" fill="#111"><text x="-1.30" y="0" font-size="15.8">MDS VTR</text><text x="72.40" y="0" font-size="15.8">[Nm</text><text x="100.10" y="-8" font-size="10.9">2</text><path d="M108.20 2 L112.50 -13.6" stroke="#111" stroke-width="1.05" fill="none"/><circle cx="117.40" cy="-8.7" r="2.05" stroke="#111" stroke-width="0.95" fill="none"/><text x="120.80" y="0" font-size="15.8">]</text></g>
<g transform="translate(419.40,444.45) rotate(-90) translate(-60.49,0)" fill="#111"><text x="-0.80" y="0" font-size="15.8">CFT VTR</text><text x="68.50" y="0" font-size="15.8">[Nm</text><text x="96.20" y="-8" font-size="10.9">2</text><path d="M104.30 2 L108.60 -13.6" stroke="#111" stroke-width="1.05" fill="none"/><circle cx="113.50" cy="-8.7" r="2.05" stroke="#111" stroke-width="0.95" fill="none"/><text x="116.90" y="0" font-size="15.8">]</text></g>
<text x="463.60" y="355.20" font-size="12.8" fill="#111"><tspan font-style="italic">r</tspan><tspan font-style="italic" font-size="9.6" dx="1.2" dy="3">s</tspan><tspan dx="0.1" dy="-3"> = 0.921</tspan></text>
<text x="463.60" y="375.60" font-size="12.8" text-anchor="start" fill="#111" >p &lt; 0.001</text>
<text x="463.60" y="396.90" font-size="12.8" text-anchor="start" fill="#111" >MAE = 0.087</text>
<path d="M648.20 411.10 L649.30 423.10 L650.10 433.10 L650.60 438.10 L650.30 453.10 L650.10 471.10 L649.30 488.10 L648.50 504.00 L662.40 504.00 L662.80 488.10 L663.10 471.10 L663.50 453.10 L663.90 436.10 L664.60 425.10 L665.60 411.10 Z" fill="url(#bone)" stroke="#a39583" stroke-width="0.7" stroke-linejoin="round"/>
<path d="M648.30 411.30 L665.50 411.30" stroke="#a89a88" stroke-width="1"/>
<path d="M656.60 435.40 L658.00 437.10 L658.80 441.10 L659.40 444.60 L661.10 446.10 L662.90 445.70 L663.40 448.10 L665.20 449.60 L666.40 452.60 L665.20 454.60 L666.00 457.10 L664.80 459.60 L662.80 460.60 L662.20 463.10 L660.20 463.50 L658.80 465.90 L657.20 466.40 L655.90 464.10 L655.60 461.60 L654.20 462.10 L653.20 465.10 L651.40 465.70 L650.20 463.90 L650.00 461.10 L648.20 459.10 L647.00 456.30 L646.30 452.90 L646.80 450.10 L648.00 448.60 L648.80 445.60 L649.60 443.70 L650.80 444.50 L651.60 447.10 L653.00 447.60 L653.80 444.10 L654.40 440.60 L655.20 437.10 Z" fill="#b50f1b" stroke="#9a0a14" stroke-width="0.6" stroke-linejoin="round"/>
<path d="M650.60 453.10 Q652.60 457.10 651.60 461.10" stroke="#8c0a12" stroke-width="1" fill="none" opacity="0.7"/>
<path d="M660.60 451.10 Q662.60 455.10 660.60 459.10" stroke="#8c0a12" stroke-width="0.9" fill="none" opacity="0.6"/>
<path d="M656.60 442.10 L657.10 453.10" stroke="#cf2a34" stroke-width="1.2" fill="none" opacity="0.5"/>
<circle cx="496.0" cy="527.4" r="3.3" fill="#e6d9b8" stroke="#151515" stroke-width="1.15"/>
<circle cx="514.4" cy="515.4" r="3.3" fill="#e6d9b8" stroke="#151515" stroke-width="1.15"/>
<circle cx="516.9" cy="507.4" r="3.3" fill="#e6d9b8" stroke="#151515" stroke-width="1.15"/>
<circle cx="522.9" cy="498.9" r="3.3" fill="#e6d9b8" stroke="#151515" stroke-width="1.15"/>
<circle cx="529.9" cy="492.5" r="3.3" fill="#e6d9b8" stroke="#151515" stroke-width="1.15"/>
<circle cx="522.2" cy="481.2" r="3.3" fill="#e6d9b8" stroke="#151515" stroke-width="1.15"/>
<circle cx="523.8" cy="480.2" r="3.3" fill="#e6d9b8" stroke="#151515" stroke-width="1.15"/>
<circle cx="536.3" cy="470.0" r="3.3" fill="#e6d9b8" stroke="#151515" stroke-width="1.15"/>
<circle cx="542.0" cy="469.9" r="3.3" fill="#e6d9b8" stroke="#151515" stroke-width="1.15"/>
<circle cx="544.5" cy="461.6" r="3.3" fill="#e6d9b8" stroke="#151515" stroke-width="1.15"/>
<circle cx="548.7" cy="460.4" r="3.3" fill="#e6d9b8" stroke="#151515" stroke-width="1.15"/>
<circle cx="549.1" cy="464.1" r="3.3" fill="#e6d9b8" stroke="#151515" stroke-width="1.15"/>
<circle cx="554.1" cy="462.9" r="3.3" fill="#e6d9b8" stroke="#151515" stroke-width="1.15"/>
<circle cx="551.0" cy="463.0" r="3.3" fill="#e6d9b8" stroke="#151515" stroke-width="1.15"/>
<circle cx="559.6" cy="463.3" r="3.3" fill="#e6d9b8" stroke="#151515" stroke-width="1.15"/>
<circle cx="562.0" cy="460.3" r="3.3" fill="#e6d9b8" stroke="#151515" stroke-width="1.15"/>
<circle cx="575.3" cy="459.0" r="3.3" fill="#e6d9b8" stroke="#151515" stroke-width="1.15"/>
<circle cx="579.0" cy="463.0" r="3.3" fill="#e6d9b8" stroke="#151515" stroke-width="1.15"/>
<circle cx="557.4" cy="449.6" r="3.3" fill="#e6d9b8" stroke="#151515" stroke-width="1.15"/>
<circle cx="569.3" cy="446.0" r="3.3" fill="#e6d9b8" stroke="#151515" stroke-width="1.15"/>
<circle cx="566.6" cy="437.7" r="3.3" fill="#e6d9b8" stroke="#151515" stroke-width="1.15"/>
<circle cx="569.6" cy="434.5" r="3.3" fill="#e6d9b8" stroke="#151515" stroke-width="1.15"/>
<circle cx="578.7" cy="427.5" r="3.3" fill="#e6d9b8" stroke="#151515" stroke-width="1.15"/>
<circle cx="587.4" cy="418.3" r="3.3" fill="#e6d9b8" stroke="#151515" stroke-width="1.15"/>
<circle cx="611.6" cy="403.3" r="3.3" fill="#e6d9b8" stroke="#151515" stroke-width="1.15"/>
<circle cx="615.4" cy="397.4" r="3.3" fill="#e6d9b8" stroke="#151515" stroke-width="1.15"/>
<circle cx="636.0" cy="369.3" r="3.3" fill="#e6d9b8" stroke="#151515" stroke-width="1.15"/>
<circle cx="551.2" cy="479.5" r="3.3" fill="#5a7789" stroke="#151515" stroke-width="1.15"/>
<circle cx="565.0" cy="465.0" r="3.3" fill="#5a7789" stroke="#151515" stroke-width="1.15"/>
<circle cx="569.6" cy="466.0" r="3.3" fill="#5a7789" stroke="#151515" stroke-width="1.15"/>
<circle cx="567.6" cy="460.6" r="3.3" fill="#5a7789" stroke="#151515" stroke-width="1.15"/>
<circle cx="567.3" cy="455.6" r="3.3" fill="#5a7789" stroke="#151515" stroke-width="1.15"/>
<circle cx="554.7" cy="453.6" r="3.3" fill="#5a7789" stroke="#151515" stroke-width="1.15"/>
<circle cx="558.0" cy="453.3" r="3.3" fill="#5a7789" stroke="#151515" stroke-width="1.15"/>
<circle cx="562.3" cy="448.3" r="3.3" fill="#5a7789" stroke="#151515" stroke-width="1.15"/>
<circle cx="570.3" cy="451.3" r="3.3" fill="#5a7789" stroke="#151515" stroke-width="1.15"/>
<circle cx="575.3" cy="447.6" r="3.3" fill="#5a7789" stroke="#151515" stroke-width="1.15"/>
<circle cx="571.6" cy="439.7" r="3.3" fill="#5a7789" stroke="#151515" stroke-width="1.15"/>
<circle cx="578.3" cy="438.3" r="3.3" fill="#5a7789" stroke="#151515" stroke-width="1.15"/>
<circle cx="581.3" cy="440.0" r="3.3" fill="#5a7789" stroke="#151515" stroke-width="1.15"/>
<circle cx="581.6" cy="429.1" r="3.3" fill="#5a7789" stroke="#151515" stroke-width="1.15"/>
<circle cx="585.4" cy="433.3" r="3.3" fill="#5a7789" stroke="#151515" stroke-width="1.15"/>
<circle cx="587.9" cy="425.8" r="3.3" fill="#5a7789" stroke="#151515" stroke-width="1.15"/>
<circle cx="595.3" cy="413.3" r="3.3" fill="#5a7789" stroke="#151515" stroke-width="1.15"/>
<circle cx="595.8" cy="417.5" r="3.3" fill="#5a7789" stroke="#151515" stroke-width="1.15"/>
<circle cx="602.0" cy="413.0" r="3.3" fill="#5a7789" stroke="#151515" stroke-width="1.15"/>
<circle cx="604.6" cy="400.8" r="3.3" fill="#5a7789" stroke="#151515" stroke-width="1.15"/>
<circle cx="608.3" cy="400.4" r="3.3" fill="#5a7789" stroke="#151515" stroke-width="1.15"/>
<circle cx="607.9" cy="406.6" r="3.3" fill="#5a7789" stroke="#151515" stroke-width="1.15"/>
<circle cx="631.8" cy="382.0" r="3.3" fill="#5a7789" stroke="#151515" stroke-width="1.15"/>
<line x1="465.5" y1="556.3" x2="674.4" y2="336.3" stroke="#d33a48" stroke-width="1.35" stroke-dasharray="4.8 2.9"/>
<rect x="574.00" y="510.50" width="100.50" height="46.00" fill="#fff" stroke="#111" stroke-width="1"/>
<circle cx="585.60" cy="525.90" r="2.85" fill="#e6d9b8" stroke="#1a1a1a" stroke-width="0.9"/>
<circle cx="585.60" cy="541.20" r="2.85" fill="#5a7789" stroke="#1a1a1a" stroke-width="0.9"/>
<text x="597.80" y="529.50" font-size="13" fill="#111">OP (<tspan font-style="italic">N</tspan><tspan dx="1.6"> =</tspan><tspan dx="0.4"> 33)</tspan></text>
<text x="597.80" y="544.80" font-size="13" fill="#111">CO (<tspan font-style="italic">N</tspan><tspan dx="1.6"> =</tspan><tspan dx="0.4"> 26)</tspan></text>
<rect x="450.0" y="332.4" width="224.50" height="224.10" fill="none" stroke="#7a7a7a" stroke-width="1.5"/>
<line x1="0" y1="300.6" x2="685" y2="300.6" stroke="#1e1e1e" stroke-width="1.45"/>
<rect x="1.5" y="1.5" width="36.3" height="36.3" fill="#e6e6e6" stroke="#111" stroke-width="1.3"/>
<text x="19.6" y="27.1" font-size="20.5" font-weight="bold" text-anchor="middle" fill="#000">a</text>
<rect x="1.5" y="300.6" width="36.3" height="36.6" fill="#e6e6e6" stroke="#111" stroke-width="1.3"/>
<text x="19.9" y="327" font-size="20.5" font-weight="bold" text-anchor="middle" fill="#000">b</text>
<rect x="0" y="0" width="685" height="1.5" fill="#000"/>
<rect x="0" y="0" width="1" height="601" fill="#777"/>
<rect x="1" y="0" width="1" height="601" fill="#2a2a2a"/>
<rect x="683.3" y="0" width="1.7" height="601" fill="#000"/>
<rect x="0" y="599.2" width="685" height="1.8" fill="#000"/>
</svg></body></html>
